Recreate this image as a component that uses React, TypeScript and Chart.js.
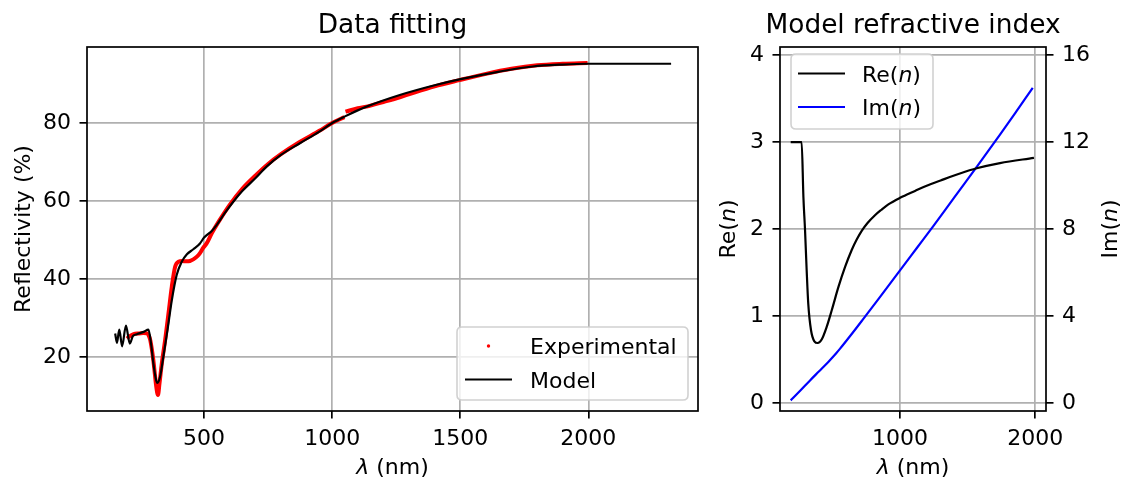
import React, { useEffect, useRef } from "react";
import { Chart, registerables } from "chart.js";

Chart.register(...registerables);

const FONT = "'DejaVu Sans', 'Liberation Sans', sans-serif";
const TICK_SIZE = 22;
const TITLE_SIZE = 26.4;

// ---------- Left panel: Data fitting ----------
const modelWavelength = [
  153, 160, 169, 180, 195, 210, 222, 238, 264, 283, 293, 302, 313, 318, 328, 341, 357, 374,
  393, 413, 433, 458, 484, 500, 530, 549, 580, 614, 650, 700, 744, 800, 874, 950, 1000, 1050,
  1134, 1264, 1400, 1497, 1653, 1783, 1900, 1997, 2100, 2200, 2323,
];
const modelReflectivity = [
  26.0, 23.6, 27.0, 22.7, 28.0, 23.4, 25.3, 25.8, 26.4, 27.0, 23.4, 18.3, 14.0, 13.3, 14.8, 20.0,
  26.8, 34.5, 41.0, 44.4, 46.3, 47.6, 49.1, 50.6, 52.3, 53.8, 56.8, 59.8, 62.6, 65.8, 68.8, 71.8,
  74.8, 77.8, 80.0, 81.7, 84.2, 87.2, 89.7, 91.2, 93.2, 94.5, 95.0, 95.2, 95.2, 95.2, 95.2,
];
const expWavelength = [
  199, 210, 225, 244, 262, 277, 285, 290, 296, 302, 308, 313, 320, 326, 335, 348, 361, 374, 387,
  400, 415, 430, 445, 458, 472, 484, 497, 510, 530, 560, 600, 650, 700, 750, 800, 870, 950, 1000,
  1048, 1050, 1052, 1100, 1134, 1200, 1264, 1400, 1497, 1600, 1700, 1800, 1900, 1997,
];
const expReflectivity: (number | null)[] = [
  24.7, 25.3, 25.8, 26.0, 26.1, 26.0, 25.3, 24.3, 22.0, 19.1, 15.5, 12.5, 10.2, 13.2, 18.3, 24.3,
  31.1, 38.0, 43.1, 44.4, 44.6, 44.5, 44.6, 45.0, 45.7, 46.6, 48.0, 49.1, 51.7, 55.0, 59.0, 63.2,
  66.5, 69.5, 72.0, 75.0, 78.0, 80.0, 81.5, null, 82.9, 83.8, 84.2, 85.4, 86.6, 89.4, 91.0, 92.6,
  93.9, 94.8, 95.2, 95.4,
];
const leftXTicks = [500, 1000, 1500, 2000];
const leftYTicks = [20, 40, 60, 80];

// ---------- Right panel: Model refractive index ----------
const reWavelength = [
  192, 273, 286, 298, 310, 322, 342, 367, 392, 421, 458, 496, 545, 594, 643, 680, 717, 760, 815,
  860, 914, 1000, 1111, 1197, 1300, 1443, 1567, 1739, 1990,
];
const reValues = [
  3.0, 3.0, 2.37, 1.99, 1.53, 1.14, 0.84, 0.71, 0.69, 0.73, 0.875, 1.07, 1.335, 1.565, 1.76, 1.88,
  1.98, 2.07, 2.16, 2.22, 2.285, 2.36, 2.44, 2.5, 2.56, 2.64, 2.7, 2.76, 2.82,
];
const imWavelength = [
  192, 260, 335, 400, 470, 530, 557, 640, 729, 850, 1000, 1123, 1246, 1400, 1567, 1739, 1860, 1981,
];
const imValues = [
  0.12, 0.55, 1.04, 1.45, 1.89, 2.3, 2.5, 3.15, 3.87, 4.86, 6.1, 7.12, 8.14, 9.45, 10.86, 12.35,
  13.42, 14.5,
];
const rightXTicks = [1000, 2000];
const reTicks = [0, 1, 2, 3, 4];
const imTicks = [0, 4, 8, 12, 16];

// ---------- helpers ----------
type Part = { t: string; it?: boolean };

function setFont(ctx: CanvasRenderingContext2D, size: number, it?: boolean) {
  ctx.font = `${it ? "italic " : ""}${size}px ${FONT}`;
}

function partsWidth(ctx: CanvasRenderingContext2D, parts: Part[], size: number) {
  let w = 0;
  for (const p of parts) {
    setFont(ctx, size, p.it);
    w += ctx.measureText(p.t).width;
  }
  return w;
}

function drawParts(
  ctx: CanvasRenderingContext2D,
  parts: Part[],
  x: number,
  y: number,
  size: number,
  align: "left" | "center"
) {
  const w = partsWidth(ctx, parts, size);
  let cx = align === "center" ? x - w / 2 : x;
  ctx.textAlign = "left";
  ctx.textBaseline = "alphabetic";
  ctx.fillStyle = "#000";
  for (const p of parts) {
    setFont(ctx, size, p.it);
    ctx.fillText(p.t, cx, y);
    cx += ctx.measureText(p.t).width;
  }
}

function drawRotated(ctx: CanvasRenderingContext2D, parts: Part[], x: number, y: number, size: number) {
  ctx.save();
  ctx.translate(x, y);
  ctx.rotate(-Math.PI / 2);
  drawParts(ctx, parts, 0, 0, size, "center");
  ctx.restore();
}

function roundRect(ctx: CanvasRenderingContext2D, x: number, y: number, w: number, h: number, r: number) {
  ctx.beginPath();
  ctx.moveTo(x + r, y);
  ctx.lineTo(x + w - r, y);
  ctx.quadraticCurveTo(x + w, y, x + w, y + r);
  ctx.lineTo(x + w, y + h - r);
  ctx.quadraticCurveTo(x + w, y + h, x + w - r, y + h);
  ctx.lineTo(x + r, y + h);
  ctx.quadraticCurveTo(x, y + h, x, y + h - r);
  ctx.lineTo(x, y + r);
  ctx.quadraticCurveTo(x, y, x + r, y);
  ctx.closePath();
}

function legendFrame(ctx: CanvasRenderingContext2D, x: number, y: number, w: number, h: number) {
  ctx.save();
  roundRect(ctx, x, y, w, h, 5);
  ctx.fillStyle = "rgba(255,255,255,0.8)";
  ctx.fill();
  ctx.strokeStyle = "rgba(204,204,204,0.9)";
  ctx.lineWidth = 1.6;
  ctx.stroke();
  ctx.restore();
}

function frameBox(ctx: CanvasRenderingContext2D, a: { left: number; top: number; right: number; bottom: number }) {
  ctx.save();
  ctx.strokeStyle = "#000";
  ctx.lineWidth = 1.7;
  ctx.strokeRect(a.left, a.top, a.right - a.left, a.bottom - a.top);
  ctx.restore();
}

const fixedTicks = (values: number[]) => (scale: any) => {
  scale.ticks = values.map((v) => ({ value: v }));
};

const gridOpts = (onArea: boolean) => ({
  display: true,
  drawOnChartArea: onArea,
  color: "#b0b0b0",
  lineWidth: 1.7,
  drawTicks: true,
  tickLength: 7.5,
  tickColor: "#000",
  tickWidth: 1.7,
});

const tickOpts = (padding: number) => ({
  color: "#000",
  font: { family: FONT, size: TICK_SIZE },
  padding,
  maxRotation: 0,
  autoSkip: false,
  callback: (v: any) => String(v),
});

const LAMBDA: Part[] = [{ t: "λ", it: true }, { t: " (nm)" }];

export default function App() {
  const leftRef = useRef<HTMLCanvasElement>(null);
  const rightRef = useRef<HTMLCanvasElement>(null);

  useEffect(() => {
    const leftPlugin = {
      id: "leftDecor",
      afterDraw(chart: any) {
        const ctx: CanvasRenderingContext2D = chart.ctx;
        const a = chart.chartArea;
        frameBox(ctx, a);
        const cx = (a.left + a.right) / 2;
        drawParts(ctx, [{ t: "Data fitting" }], cx, 33, TITLE_SIZE, "center");
        drawParts(ctx, LAMBDA, cx, 474, TICK_SIZE, "center");
        drawRotated(ctx, [{ t: "Reflectivity (%)" }], 30, (a.top + a.bottom) / 2, TICK_SIZE);
        // legend
        legendFrame(ctx, 457, 327, 231, 73);
        ctx.save();
        ctx.fillStyle = "#ff0000";
        ctx.beginPath();
        ctx.arc(488.5, 346, 1.7, 0, Math.PI * 2);
        ctx.fill();
        ctx.strokeStyle = "#000";
        ctx.lineWidth = 2.2;
        ctx.beginPath();
        ctx.moveTo(465, 379.5);
        ctx.lineTo(512, 379.5);
        ctx.stroke();
        ctx.restore();
        drawParts(ctx, [{ t: "Experimental" }], 530, 353.5, TICK_SIZE, "left");
        drawParts(ctx, [{ t: "Model" }], 530, 387.5, TICK_SIZE, "left");
      },
    };

    const rightPlugin = {
      id: "rightDecor",
      afterDraw(chart: any) {
        const ctx: CanvasRenderingContext2D = chart.ctx;
        const a = chart.chartArea;
        frameBox(ctx, a);
        const cx = (a.left + a.right) / 2;
        drawParts(ctx, [{ t: "Model refractive index" }], cx, 33, TITLE_SIZE, "center");
        drawParts(ctx, LAMBDA, cx, 474, TICK_SIZE, "center");
        const cy = (a.top + a.bottom) / 2;
        drawRotated(ctx, [{ t: "Re(" }, { t: "n", it: true }, { t: ")" }], 735, cy, TICK_SIZE);
        drawRotated(ctx, [{ t: "Im(" }, { t: "n", it: true }, { t: ")" }], 1117, cy, TICK_SIZE);
        legendFrame(ctx, 791, 54, 142, 75);
        ctx.save();
        ctx.lineWidth = 2.2;
        ctx.strokeStyle = "#000";
        ctx.beginPath();
        ctx.moveTo(798, 73.5);
        ctx.lineTo(845, 73.5);
        ctx.stroke();
        ctx.strokeStyle = "#0000ff";
        ctx.beginPath();
        ctx.moveTo(798, 107);
        ctx.lineTo(845, 107);
        ctx.stroke();
        ctx.restore();
        drawParts(ctx, [{ t: "Re(" }, { t: "n", it: true }, { t: ")" }], 862, 81.5, TICK_SIZE, "left");
        drawParts(ctx, [{ t: "Im(" }, { t: "n", it: true }, { t: ")" }], 862, 115, TICK_SIZE, "left");
      },
    };

    const left = new Chart(leftRef.current!, {
      type: "line",
      data: {
        datasets: [
          {
            label: "Experimental",
            data: expWavelength.map((x, i) => ({ x, y: expReflectivity[i] })) as any,
            borderColor: "#ff0000",
            borderWidth: 4,
            pointRadius: 0,
            cubicInterpolationMode: "monotone",
            spanGaps: false,
            order: 2,
          },
          {
            label: "Model",
            data: modelWavelength.map((x, i) => ({ x, y: modelReflectivity[i] })),
            borderColor: "#000000",
            borderWidth: 2.2,
            pointRadius: 0,
            cubicInterpolationMode: "monotone",
            order: 1,
          },
        ],
      },
      options: {
        responsive: false,
        animation: false,
        devicePixelRatio: 1,
        layout: { padding: { left: 0, top: 47, right: 425, bottom: 0 } },
        plugins: { legend: { display: false }, tooltip: { enabled: false }, title: { display: false } },
        scales: {
          x: {
            type: "linear",
            position: "bottom",
            min: 43,
            max: 2428,
            afterBuildTicks: fixedTicks(leftXTicks),
            afterFit: (s: any) => {
              s.height = 73;
            },
            grid: gridOpts(true),
            border: { display: false },
            ticks: tickOpts(7.5),
          },
          y: {
            type: "linear",
            position: "left",
            min: 6.1,
            max: 99.5,
            afterBuildTicks: fixedTicks(leftYTicks),
            afterFit: (s: any) => {
              s.width = 87;
            },
            grid: gridOpts(true),
            border: { display: false },
            ticks: tickOpts(8.5),
          },
        },
      } as any,
      plugins: [leftPlugin],
    });

    const right = new Chart(rightRef.current!, {
      type: "line",
      data: {
        datasets: [
          {
            label: "Re(n)",
            data: reWavelength.map((x, i) => ({ x, y: reValues[i] })),
            borderColor: "#000000",
            borderWidth: 2.2,
            pointRadius: 0,
            cubicInterpolationMode: "monotone",
            yAxisID: "y",
          },
          {
            label: "Im(n)",
            data: imWavelength.map((x, i) => ({ x, y: imValues[i] })),
            borderColor: "#0000ff",
            borderWidth: 2.2,
            pointRadius: 0,
            cubicInterpolationMode: "monotone",
            yAxisID: "y2",
          },
        ],
      },
      options: {
        responsive: false,
        animation: false,
        devicePixelRatio: 1,
        layout: { padding: { left: 700, top: 47, right: 0, bottom: 0 } },
        plugins: { legend: { display: false }, tooltip: { enabled: false }, title: { display: false } },
        scales: {
          x: {
            type: "linear",
            position: "bottom",
            min: 113,
            max: 2079,
            afterBuildTicks: fixedTicks(rightXTicks),
            afterFit: (s: any) => {
              s.height = 73;
            },
            grid: gridOpts(true),
            border: { display: false },
            ticks: tickOpts(7.5),
          },
          y: {
            type: "linear",
            position: "left",
            min: -0.092,
            max: 4.095,
            afterBuildTicks: fixedTicks(reTicks),
            afterFit: (s: any) => {
              s.width = 80;
            },
            grid: gridOpts(true),
            border: { display: false },
            ticks: tickOpts(8.5),
          },
          y2: {
            type: "linear",
            position: "right",
            min: -0.368,
            max: 16.38,
            afterBuildTicks: fixedTicks(imTicks),
            afterFit: (s: any) => {
              s.width = 77;
            },
            grid: gridOpts(false),
            border: { display: false },
            ticks: tickOpts(8.5),
          },
        },
      } as any,
      plugins: [rightPlugin],
    });

    return () => {
      left.destroy();
      right.destroy();
    };
  }, []);

  return (
    <div style={{ position: "fixed", left: 0, top: 0, width: 1123, height: 484, background: "#fff" }}>
      <canvas ref={leftRef} width={1123} height={484} style={{ position: "absolute", left: 0, top: 0 }} />
      <canvas ref={rightRef} width={1123} height={484} style={{ position: "absolute", left: 0, top: 0 }} />
    </div>
  );
}
